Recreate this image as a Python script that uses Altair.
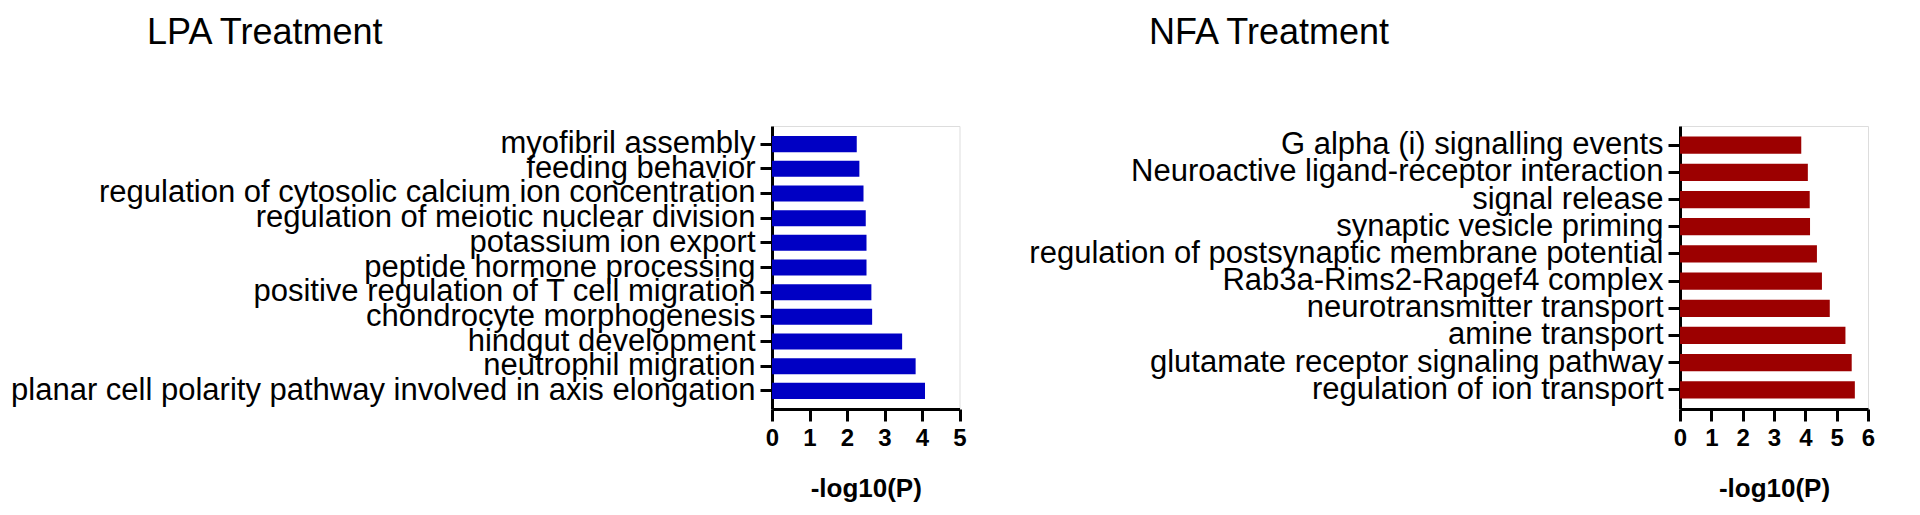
import altair as alt
import pandas as pd

lpa_terms = [
    "myofibril assembly",
    "feeding behavior",
    "regulation of cytosolic calcium ion concentration",
    "regulation of meiotic nuclear division",
    "potassium ion export",
    "peptide hormone processing",
    "positive regulation of T cell migration",
    "chondrocyte morphogenesis",
    "hindgut development",
    "neutrophil migration",
    "planar cell polarity pathway involved in axis elongation",
]
lpa_values = [2.26, 2.33, 2.44, 2.50, 2.52, 2.52, 2.65, 2.67, 3.47, 3.83, 4.08]

nfa_terms = [
    "G alpha (i) signalling events",
    "Neuroactive ligand-receptor interaction",
    "signal release",
    "synaptic vesicle priming",
    "regulation of postsynaptic membrane potential",
    "Rab3a-Rims2-Rapgef4 complex",
    "neurotransmitter transport",
    "amine transport",
    "glutamate receptor signaling pathway",
    "regulation of ion transport",
]
nfa_values = [3.87, 4.08, 4.14, 4.15, 4.37, 4.53, 4.78, 5.28, 5.48, 5.58]

FONT = "Liberation Sans, Arial, sans-serif"


def panel(terms, values, title, color, xmax, width, pad_inner, pad_outer,
          extent, title_dx):
    df = pd.DataFrame({"term": terms, "value": values})
    return (
        alt.Chart(df)
        .mark_bar(color=color)
        .encode(
            x=alt.X(
                "value:Q",
                scale=alt.Scale(domain=[0, xmax], nice=False, zero=True),
                axis=alt.Axis(
                    title="-log10(P)",
                    values=list(range(xmax + 1)),
                    format="d",
                    grid=False,
                    domainColor="black",
                    domainWidth=3,
                    tickColor="black",
                    tickWidth=3,
                    tickSize=12,
                    labelFont=FONT,
                    labelFontSize=24,
                    labelFontWeight="bold",
                    labelColor="black",
                    labelPadding=5,
                    labelFlush=False,
                    titleFont=FONT,
                    titleFontSize=26,
                    titleFontWeight="bold",
                    titleColor="black",
                    titlePadding=25,
                ),
            ),
            y=alt.Y(
                "term:N",
                sort=terms,
                scale=alt.Scale(paddingInner=pad_inner, paddingOuter=pad_outer),
                axis=alt.Axis(
                    title=None,
                    grid=False,
                    domainColor="black",
                    domainWidth=3,
                    tickColor="black",
                    tickWidth=3,
                    tickSize=12,
                    labelFont=FONT,
                    labelFontSize=31,
                    labelColor="black",
                    labelPadding=5,
                    labelLimit=0,
                    minExtent=extent,
                    maxExtent=extent,
                ),
            ),
        )
        .properties(
            width=width,
            height=283,
            title=alt.TitleParams(
                text=title,
                font=FONT,
                fontSize=36,
                fontWeight="normal",
                color="black",
                anchor="middle",
                frame="group",
                dx=title_dx,
                offset=74,
            ),
        )
    )


left = panel(lpa_terms, lpa_values, "LPA Treatment", "#0000C4", 5, 187.5,
             0.35, 0.41, 763, -601)
right = panel(nfa_terms, nfa_values, "NFA Treatment", "#9C0000", 6, 188,
              0.364, 0.386, 700, -505)

chart = (
    alt.hconcat(left, right, spacing=720)
    .resolve_scale(x="independent", y="independent")
    .configure_concat(spacing=720)
    .configure_view(strokeWidth=0)
    .configure(font=FONT)
    .properties(bounds="flush", padding={"left": 0, "top": 6, "right": 0, "bottom": 0})
)

chart.save("out.html", embed_options={"renderer": "svg", "actions": False})
